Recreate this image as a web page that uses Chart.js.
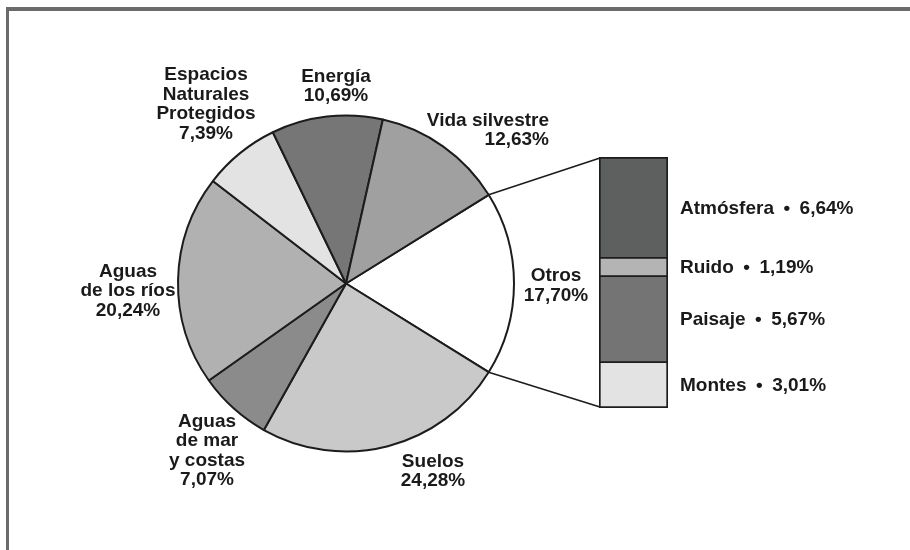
<!DOCTYPE html>
<html>
<head>
<meta charset="utf-8">
<script src="https://cdn.jsdelivr.net/npm/chart.js@4"></script>
<style>
  body { margin: 0; background: #fff; }
  #wrap { position: relative; width: 910px; height: 550px; overflow: hidden; }
  #frameTop { position: absolute; left: 6px; top: 7px; width: 904px; height: 4px; background: #6b6b6b; }
  #frameLeft { position: absolute; left: 6px; top: 7px; width: 3px; height: 543px; background: #6b6b6b; }
  #pie { position: absolute; left: 0; top: 0; }
  #bar { position: absolute; left: 590px; top: 140px; }
</style>
</head>
<body>
<div id="wrap">
  <div id="frameTop"></div>
  <div id="frameLeft"></div>
  <canvas id="pie" width="910" height="550"></canvas>
  <canvas id="bar" width="320" height="290"></canvas>
</div>
<script>
// Pie categories (lines as printed) and shares in %
const categories = [
  ['Otros'],
  ['Suelos'],
  ['Aguas', 'de mar', 'y costas'],
  ['Aguas', 'de los ríos'],
  ['Espacios', 'Naturales', 'Protegidos'],
  ['Energía'],
  ['Vida silvestre']
]
const shares = [17.70, 24.28, 7.07, 20.24, 7.39, 10.69, 12.63]
const pieColors = ['#ffffff', '#c9c9c9', '#8b8b8b', '#b1b1b1', '#e3e3e3', '#767676', '#a0a0a0']

// Breakdown of "Otros", top to bottom
const otrosParts = ['Atmósfera', 'Ruido', 'Paisaje', 'Montes']
const otrosValues = [6.64, 1.19, 5.67, 3.01]
const barColors = ['#5e605f', '#b4b4b4', '#747474', '#e3e3e3']

const FONT = 'bold 19px "Liberation Sans", Arial, sans-serif'
const INK = '#1a1a1a'
const LINE = '#1c1c1c'

function pct(v) {
  return v.toFixed(2).replace('.', ',') + '%'
}

// label anchors relative to pie centre: [dx, dy, align]
const labelSpots = [
  [210, 2.5, 'center'],
  [87, 188, 'center'],
  [-139, 167.5, 'center'],
  [-218, 7.5, 'center'],
  [-140, -179, 'center'],
  [-10, -197, 'center'],
  [203, -153, 'right']
]

// ---- stacked bar for "Otros" ----
const barOffset = { x: 590, y: 140 }
const barTotal = otrosValues.reduce((a, b) => a + b, 0)
const n = otrosParts.length
const barDatasets = otrosParts.map((name, i) => {
  const top = i === 0 ? 2.2 : 1.2
  const bottom = i === n - 1 ? 2.2 : 1.2
  return {
    label: name,
    data: [otrosValues[i]],
    backgroundColor: barColors[i],
    borderColor: LINE,
    borderWidth: { top: top, bottom: bottom, left: 2, right: 2 },
    borderSkipped: false,
    barPercentage: 1,
    categoryPercentage: 1
  }
}).reverse() // first dataset sits at the bottom

const barLabels = {
  id: 'barLabels',
  afterDatasetsDraw(chart) {
    const ctx = chart.ctx
    ctx.save()
    ctx.font = FONT
    ctx.fillStyle = INK
    ctx.textAlign = 'left'
    ctx.textBaseline = 'middle'
    chart.data.datasets.forEach((ds, i) => {
      const el = chart.getDatasetMeta(i).data[0]
      const mid = (el.y + el.base) / 2
      ctx.fillText(ds.label + '\u2002\u2022\u2002' + pct(ds.data[0]), 90, mid + 1)
    })
    ctx.restore()
  }
}

const barChart = new Chart(document.getElementById('bar'), {
  type: 'bar',
  data: { labels: ['Otros'], datasets: barDatasets },
  options: {
    responsive: false,
    animation: false,
    events: [],
    layout: { padding: { left: 9, right: 242, top: 17, bottom: 22 } },
    plugins: { legend: { display: false }, tooltip: { enabled: false } },
    scales: {
      x: { display: false, stacked: true },
      y: { display: false, stacked: true, min: 0, max: barTotal }
    }
  },
  plugins: [barLabels]
})

// ---- pie ----
const pieExtras = {
  id: 'pieExtras',
  afterDatasetsDraw(chart) {
    const ctx = chart.ctx
    const arcs = chart.getDatasetMeta(0).data
    const cx = arcs[0].x
    const cy = arcs[0].y

    // connectors from the "Otros" slice to the bar corners
    const otros = arcs[0]
    const R = otros.outerRadius
    const topEl = barChart.getDatasetMeta(n - 1).data[0]
    const botEl = barChart.getDatasetMeta(0).data[0]
    const barLeft = topEl.x - topEl.width / 2 + barOffset.x
    ctx.save()
    ctx.strokeStyle = LINE
    ctx.lineWidth = 1.6
    ctx.beginPath()
    ctx.moveTo(cx + R * Math.cos(otros.startAngle), cy + R * Math.sin(otros.startAngle))
    ctx.lineTo(barLeft + 1, topEl.y + barOffset.y + 1)
    ctx.moveTo(cx + R * Math.cos(otros.endAngle), cy + R * Math.sin(otros.endAngle))
    ctx.lineTo(barLeft + 1, botEl.base + barOffset.y - 1)
    ctx.stroke()

    // slice labels
    ctx.font = FONT
    ctx.fillStyle = INK
    ctx.textBaseline = 'middle'
    const lh = 19.5
    categories.forEach((lines, i) => {
      const spot = labelSpots[i]
      const all = lines.concat([pct(shares[i])])
      ctx.textAlign = spot[2]
      const y0 = cy + spot[1] - (all.length - 1) * lh / 2
      all.forEach((t, k) => {
        ctx.fillText(t, cx + spot[0], y0 + k * lh)
      })
    })
    ctx.restore()
  }
}

new Chart(document.getElementById('pie'), {
  type: 'pie',
  data: {
    labels: categories,
    datasets: [{
      data: shares,
      backgroundColor: pieColors,
      borderColor: LINE,
      borderWidth: 2
    }]
  },
  options: {
    responsive: false,
    animation: false,
    events: [],
    rotation: 90 - shares[0] * 1.8,
    layout: { padding: { left: 177, top: 114.5, right: 395, bottom: 97.5 } },
    plugins: { legend: { display: false }, tooltip: { enabled: false } }
  },
  plugins: [pieExtras]
})
</script>
</body>
</html>
